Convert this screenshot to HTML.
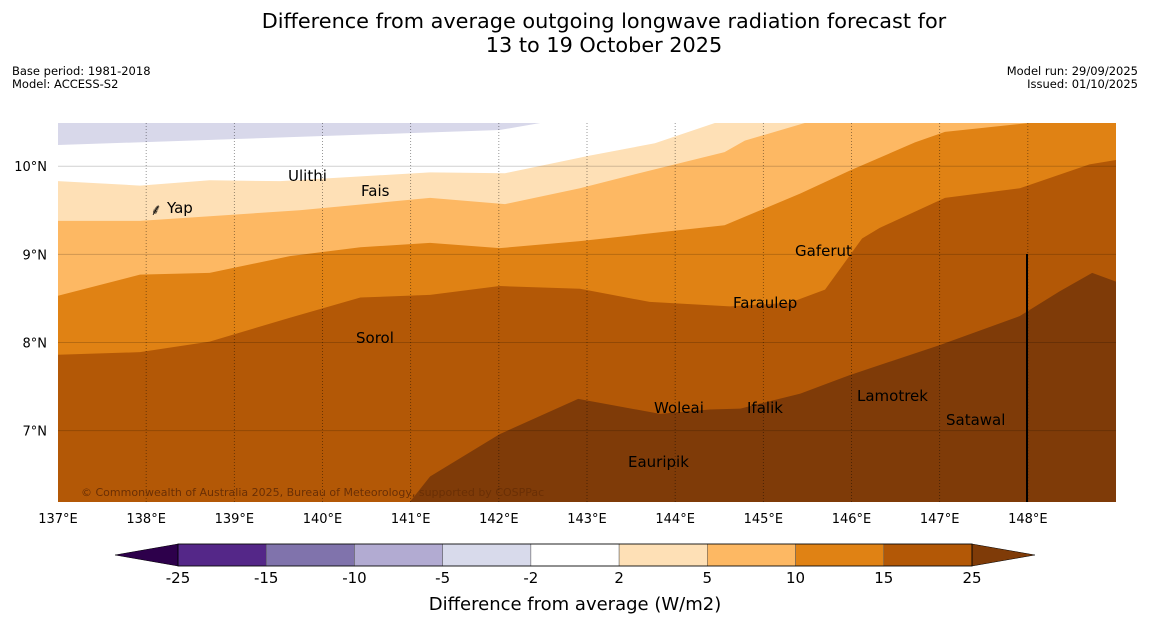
<!DOCTYPE html>
<html><head><meta charset="utf-8"><style>
body{margin:0;background:#fff;width:1150px;height:644px;overflow:hidden;font-family:"DejaVu Sans","Liberation Sans",sans-serif}
svg{position:absolute;left:0;top:0;font-family:"DejaVu Sans","Liberation Sans",sans-serif}
</style></head><body>
<svg width="1150" height="644" id="chart">
<text x="604" y="28" text-anchor="middle" font-size="20.8" fill="#000">Difference from average outgoing longwave radiation forecast for</text>
<text x="604" y="52" text-anchor="middle" font-size="20.8" fill="#000">13 to 19 October 2025</text>
<text x="12" y="75" font-size="11.5">Base period: 1981-2018</text>
<text x="12" y="88" font-size="11.5">Model: ACCESS-S2</text>
<text x="1138" y="75" font-size="11.5" text-anchor="end">Model run: 29/09/2025</text>
<text x="1138" y="88" font-size="11.5" text-anchor="end">Issued: 01/10/2025</text>
<g id="map"></g>
<g id="cbar"></g>
<text x="575" y="610" text-anchor="middle" font-size="18">Difference from average (W/m2)</text>
</svg>
<script>
const NS="http://www.w3.org/2000/svg";
const lonMin=137,lonMax=149,latMin=6.19,latMax=10.49;
const X0=58,X1=1116,Y0=123,Y1=502;
const xs=lon=>X0+(lon-lonMin)/(lonMax-lonMin)*(X1-X0);
const ys=lat=>Y0+(latMax-lat)/(latMax-latMin)*(Y1-Y0);
const lineLav=[[137,10.24],[142.01,10.41],[142.47,10.49]];
const line2=[[137,9.83],[137.93,9.78],[138.72,9.84],[139.52,9.83],[141.22,9.93],[142.07,9.92],[143.03,10.12],[143.77,10.26],[144.45,10.49]];
const line5=[[137,9.38],[137.93,9.38],[139.74,9.50],[141.22,9.64],[142.07,9.57],[142.92,9.75],[143.71,9.95],[144.56,10.16],[144.79,10.29],[145.47,10.49]];
const line10=[[137,8.53],[137.93,8.77],[138.72,8.79],[139.63,8.98],[140.43,9.08],[141.22,9.13],[142.01,9.07],[142.92,9.15],[143.83,9.25],[144.56,9.33],[145.42,9.69],[145.98,9.95],[146.72,10.27],[147.06,10.39],[148.02,10.49]];
const line15=[[137,7.86],[137.93,7.89],[138.72,8.01],[139.63,8.28],[140.43,8.51],[141.22,8.54],[142.01,8.64],[142.92,8.61],[143.71,8.46],[144.62,8.41],[145.3,8.45],[145.7,8.60],[146.12,9.18],[146.32,9.30],[147.06,9.64],[147.91,9.75],[148.7,10.02],[149,10.07]];
const line25=[[140.99,6.19],[141.22,6.48],[142.01,6.96],[142.9,7.36],[143.83,7.19],[144.39,7.24],[144.74,7.25],[145.42,7.42],[145.98,7.63],[147.0,7.97],[147.91,8.30],[148.36,8.58],[148.73,8.79],[149,8.69]];
const lonTicks=[137,138,139,140,141,142,143,144,145,146,147,148];
const latTicks=[7,8,9,10];
const cbBounds=[-25,-15,-10,-5,-2,2,5,10,15,25];
const cbColors=["#542788","#8073ac","#b2abd2","#d8daeb","#ffffff","#fee0b6","#fdb863","#e08214","#b35806"];
const map=document.getElementById('map');
function mk(tag,attrs,parent){const e=document.createElementNS(NS,tag);for(const k in attrs)e.setAttribute(k,attrs[k]);(parent||map).appendChild(e);return e;}
let bg=mk('rect',{x:X0,y:Y0,width:X1-X0,height:Y1-Y0,fill:"#d8d8ea"});


function polyFor(line){
  let pts=line.map(p=>[xs(p[0]),ys(p[1])]);
  const last=line[line.length-1];
  if(last[0]<lonMax) pts.push([xs(lonMax),ys(latMax)]);
  pts.push([xs(lonMax),ys(latMin)]);pts.push([xs(line[0][0]),ys(latMin)]);
  return pts.map(p=>p.join(',')).join(' ');
}
let w=mk('polygon',{points:polyFor(lineLav),fill:"#ffffff"});


const bandNames=['band-2-5','band-5-10','band-10-15','band-15-25','band-25-plus'];
let bi=0;
[[line2,"#fee0b6"],[line5,"#fdb863"],[line10,"#e08214"],[line15,"#b35806"],[line25,"#7f3b08"]].forEach(([l,c])=>{
  const p=mk('polygon',{points:polyFor(l),fill:c});
  
  
});
latTicks.forEach(t=>{
  const y=ys(t);
  const g=mk('line',{x1:X0,x2:X1,y1:y,y2:y,stroke:"rgba(0,0,0,0.18)","stroke-width":1});
  
  
  const tx=mk('text',{x:47,y:y+5,"text-anchor":"end","font-size":13});
  tx.textContent=t+"°N";
  
  
});
lonTicks.forEach(t=>{
  const x=xs(t);
  if(t>lonMin){const g=mk('line',{x1:x,x2:x,y1:Y0,y2:Y1,stroke:"rgba(0,0,0,0.5)","stroke-width":0.8,"stroke-dasharray":"1,2"});
  
  }
  const tx=mk('text',{x:x,y:523,"text-anchor":"middle","font-size":13});
  tx.textContent=t+"°E";
  
  
});
const vl=mk('line',{x1:1027,x2:1027,y1:254,y2:502,stroke:"#000","stroke-width":2});


const islands=[["Yap",167,213],["Ulithi",288,181],["Fais",361,196],["Gaferut",795,256],["Faraulep",733,308],["Sorol",356,343],["Woleai",654,413],["Ifalik",747,413],["Lamotrek",857,401],["Satawal",946,425],["Eauripik",628,467]];
islands.forEach(([n,x,y])=>{
  const t=mk('text',{x:x,y:y,"font-size":15,fill:"#000"});
  t.textContent=n;
  
  
});
const yapIcon=mk('text',{x:150,y:215,"font-size":16});
yapIcon.textContent="⸙";


const cp=mk('text',{x:81,y:496,"font-size":11,fill:"#6a2f05"});
cp.textContent="© Commonwealth of Australia 2025, Bureau of Meteorology, supported by COSPPac";


const cb=document.getElementById('cbar');
const cx0=178,cx1=972,cy=544,ch=22;
const cbx=i=>cx0+i*(cx1-cx0)/(cbBounds.length-1);
cbColors.forEach((c,i)=>{
  const r=mk('rect',{x:cbx(i),y:cy,width:cbx(i+1)-cbx(i),height:ch,fill:c,stroke:"#555","stroke-width":0.5},cb);
  
  
});
const lt=mk('polygon',{points:`${cx0},${cy} 115,${cy+ch/2} ${cx0},${cy+ch}`,fill:"#2d004b",stroke:"#000","stroke-width":0.5},cb);


const rt=mk('polygon',{points:`${cx1},${cy} 1035,${cy+ch/2} ${cx1},${cy+ch}`,fill:"#7f3b08",stroke:"#000","stroke-width":0.5},cb);


const ob=mk('rect',{x:cx0,y:cy,width:cx1-cx0,height:ch,fill:"none",stroke:"#000","stroke-width":0.8},cb);


cbBounds.forEach((v,i)=>{
  const t=mk('text',{x:cbx(i),y:583,"text-anchor":"middle","font-size":15},cb);
  t.textContent=v;
  
  
});
</script>
</body></html>
